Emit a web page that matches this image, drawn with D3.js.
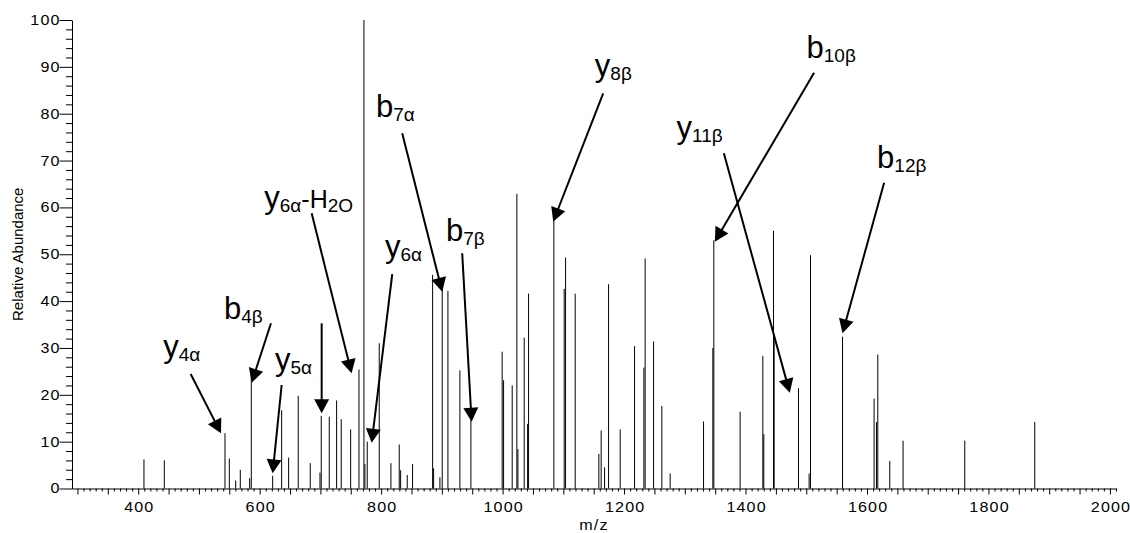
<!DOCTYPE html>
<html>
<head>
<meta charset="utf-8">
<script src="https://cdn.jsdelivr.net/npm/d3@7"></script>
<style>
  html, body { margin: 0; padding: 0; background: #fff; }
  svg { display: block; font-family: "Liberation Sans", Arial, sans-serif; }
</style>
</head>
<body>
<svg id="chart" width="1130" height="533"></svg>
<script>
// MS/MS fragment spectrum: centroided peaks (m/z, relative abundance %)
const peakMz = [
  409.5, 443.0, 542.9, 550.0, 560.5, 568.1, 583.5, 586.2, 621.4, 636.2,
  647.7, 663.5, 683.3, 699.3, 701.4, 714.6, 726.7, 734.3, 749.8, 763.5,
  771.7, 773.3, 777.1, 796.9, 816.1, 829.8, 832.1, 843.0, 851.8, 884.8,
  886.4, 896.8, 900.6, 910.0, 929.7, 947.8, 999.3, 1001.6, 1015.8, 1023.5,
  1025.2, 1035.6, 1041.2, 1042.8, 1084.4, 1101.4, 1103.7, 1119.5, 1158.5, 1162.3,
  1167.9, 1174.5, 1193.6, 1217.3, 1232.6, 1234.7, 1248.6, 1262.2, 1275.9, 1330.9,
  1346.2, 1347.8, 1391.1, 1428.5, 1430.1, 1446.1, 1447.1, 1487.2, 1504.7, 1507.0,
  1559.7, 1611.7, 1615.6, 1617.8, 1637.5, 1659.4, 1761.0, 1876.2
];
const peakAbundance = [
  6.2, 6.0, 11.8, 6.4, 1.7, 4.0, 2.2, 25.5, 2.7, 16.7,
  6.6, 19.8, 5.4, 3.4, 15.5, 15.3, 18.8, 14.8, 12.6, 25.4,
  100, 5.2, 10.0, 31.0, 5.4, 9.4, 3.9, 2.9, 5.2, 45.6,
  4.3, 2.4, 44.0, 42.2, 25.2, 15.0, 29.2, 23.1, 22.0, 62.9,
  8.4, 32.2, 13.8, 41.6, 57.5, 42.6, 49.3, 41.6, 7.4, 12.4,
  4.5, 43.6, 12.6, 30.4, 25.8, 49.1, 31.4, 17.6, 3.2, 14.3,
  30.0, 53.0, 16.4, 28.3, 11.6, 55.0, 32.7, 21.4, 3.2, 49.8,
  32.4, 19.2, 14.2, 28.6, 5.9, 10.2, 10.2, 14.2
];

// Axis tick labels
const xTickLabels = [400, 600, 800, 1000, 1200, 1400, 1600, 1800, 2000];
const yTickLabels = [0, 10, 20, 30, 40, 50, 60, 70, 80, 90, 100];

// Fragment-ion annotations: label parts alternate ion letter / subscript
const ionLabels = [
  ["y", "4α"], ["b", "4β"], ["y", "5α"], [], ["y", "6α", "-H", "2O"], ["y", "6α"],
  ["b", "7α"], ["b", "7β"], ["y", "8β"], ["y", "11β"], ["b", "10β"], ["b", "12β"]
];
// label anchor, arrow tail and arrow tip, in (m/z, abundance) units
const labelMz   = [441.3, 541.2, 625.2, null, 607.6, 806.3, 791.4, 906.7, 1151.9, 1286.4, 1500.4, 1616.6];
const labelAb   = [28.07, 36.18, 25.29, null, 59.94, 49.48, 79.3, 52.89, 88.05, 74.88, 91.8, 68.35];
const tailMz    = [486.4, 618.6, 636.2, 702.1, 685.6, 818.3, 834.7, 933.5, 1165.6, 1364.3, 1512.9, 1628.2];
const tailAb    = [24.44, 35.26, 22.09, 35.26, 58.74, 45.78, 75.82, 50.2, 84.35, 71.55, 88.75, 65.27];
const tipMz     = [536.3, 586.8, 621.4, 702.1, 751.4, 784.4, 900.6, 949.0, 1083.3, 1472.9, 1349.5, 1559.7];
const tipAb     = [11.78, 22.58, 3.24, 16.05, 24.59, 9.78, 42.0, 14.26, 56.95, 20.45, 52.68, 33.13];

const svg = d3.select("#chart");

const x = d3.scaleLinear().domain([291, 2010]).range([72, 1116]);
const y = d3.scaleLinear().domain([0, 100]).range([488.5, 20]);

// tick-label look: wide, tracked digits
const tickFont = 14, tickTrack = 1, tickStretch = 1.15;

// ---- x axis: minor ticks every 10, longer every 50, labels every 200
const xAxis = d3.axisBottom(x)
  .tickValues(d3.range(300, 2011, 10))
  .tickSize(3)
  .tickSizeOuter(0)
  .tickFormat(d => xTickLabels.includes(d) ? String(d) : "");
const gx = svg.append("g")
  .attr("transform", `translate(0,${y(0)})`)
  .call(xAxis);
gx.selectAll(".tick line").filter(d => d % 50 === 0).attr("y2", 6);
gx.selectAll(".tick text")
  .attr("y", 0).attr("dy", 0)
  .attr("transform", `translate(${tickTrack * tickStretch / 2},23.5) scale(${tickStretch},1)`)
  .attr("font-size", tickFont)
  .attr("letter-spacing", tickTrack + "px")
  .attr("fill", "#000");

// ---- y axis: minor ticks every 2, long ticks + labels every 10
const yAxis = d3.axisLeft(y)
  .tickValues(d3.range(0, 101, 2))
  .tickSize(6)
  .tickSizeOuter(0)
  .tickFormat(d => yTickLabels.includes(d) ? String(d) : "");
const gy = svg.append("g")
  .attr("transform", "translate(72,0)")
  .call(yAxis);
gy.selectAll(".tick line").filter(d => d % 10 === 0).attr("x2", -12.5);
gy.selectAll(".tick text")
  .attr("x", 0)
  .attr("transform", `translate(${-12.5 + tickTrack * tickStretch},0) scale(${tickStretch},1)`)
  .attr("font-size", tickFont)
  .attr("letter-spacing", tickTrack + "px")
  .attr("fill", "#000");

svg.selectAll(".domain, .tick line").attr("stroke", "#000");

// ---- axis titles
svg.append("text")
  .attr("transform", `translate(22.7,${(y(0) + y(100)) / 2}) rotate(-90)`)
  .attr("text-anchor", "middle")
  .attr("font-size", 15)
  .text("Relative Abundance");

svg.append("text")
  .attr("transform", `translate(${(x.range()[0] + x.range()[1]) / 2},530) scale(${tickStretch},1)`)
  .attr("text-anchor", "middle")
  .attr("font-size", tickFont)
  .attr("letter-spacing", tickTrack + "px")
  .text("m/z");

// ---- spectrum sticks
svg.append("g")
  .selectAll("line")
  .data(d3.zip(peakMz, peakAbundance))
  .join("line")
  .attr("x1", d => x(d[0]))
  .attr("x2", d => x(d[0]))
  .attr("y1", y(0))
  .attr("y2", d => y(d[1]))
  .attr("stroke", "#000")
  .attr("stroke-width", 1);

// ---- annotation arrows
const headLen = 14, headHalf = 7.5;
const ann = svg.append("g");
ionLabels.forEach((parts, i) => {
  const x0 = x(tailMz[i]), y0 = y(tailAb[i]);
  const x1 = x(tipMz[i]), y1 = y(tipAb[i]);
  const dx = x1 - x0, dy = y1 - y0, len = Math.hypot(dx, dy);
  const ux = dx / len, uy = dy / len;
  const bx = x1 - ux * headLen, by = y1 - uy * headLen;
  ann.append("line")
    .attr("x1", x0).attr("y1", y0)
    .attr("x2", bx + ux * 2).attr("y2", by + uy * 2)
    .attr("stroke", "#000").attr("stroke-width", 2);
  ann.append("polygon")
    .attr("points", [
      [x1, y1],
      [bx - uy * headHalf, by + ux * headHalf],
      [bx + uy * headHalf, by - ux * headHalf]
    ].map(p => p.join(",")).join(" "))
    .attr("fill", "#000");

  if (parts.length) {
    const t = ann.append("text")
      .attr("x", x(labelMz[i]))
      .attr("y", y(labelAb[i]))
      .attr("fill", "#000");
    parts.forEach((p, k) => {
      const isSub = k % 2 === 1;
      t.append("tspan")
        .attr("font-size", isSub ? 19 : (k === 0 ? 31 : 25))
        .attr("dy", k === 0 ? 0 : (isSub ? 4 : -4))
        .text(p);
    });
  }
});
</script>
</body>
</html>
